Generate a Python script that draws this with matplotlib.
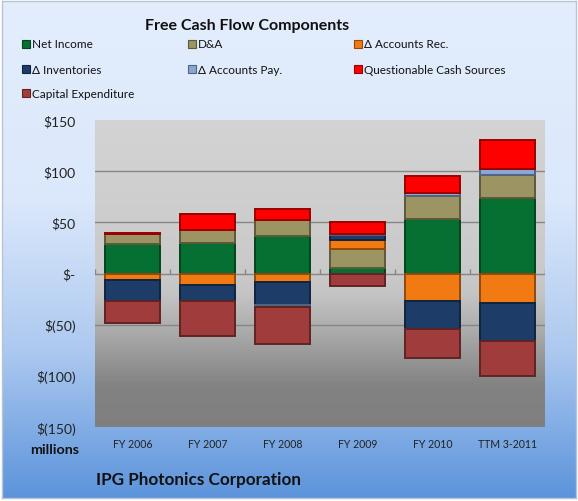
import matplotlib
matplotlib.use('Agg')
import matplotlib.pyplot as plt
import numpy as np
from matplotlib.patches import Rectangle
import matplotlib.colors as mcolors

# ---------------- data ----------------
categories = ['FY 2006', 'FY 2007', 'FY 2008', 'FY 2009', 'FY 2010', 'TTM 3-2011']
net_income = [28.7, 30.0, 36.6, 4.9, 53.6, 73.5]
dna = [9.8, 12.4, 15.4, 19.3, 22.2, 22.9]
accounts_rec = [-6.5, -11.0, -8.5, 8.8, -27.1, -28.8]
inventories = [-20.0, -15.7, -22.2, 5.0, -27.1, -37.6]
accounts_pay = [0.0, 0.0, -2.0, 0.8, 3.3, 6.2]
questionable = [1.5, 16.0, 11.4, 11.8, 16.3, 28.0]
capex = [-21.5, -34.6, -36.3, -11.8, -28.8, -33.6]

series_names = ['Net Income', 'D&A', 'Δ Accounts Rec.', 'Δ Inventories',
                'Δ Accounts Pay.', 'Questionable Cash Sources', 'Capital Expenditure']
y_ticks = [150, 100, 50, 0, -50, -100, -150]
y_tick_labels = ['$150', '$100', '$50', '$-', '$(50)', '$(100)', '$(150)']

series_values = [net_income, dna, accounts_rec, inventories, accounts_pay, questionable, capex]
colors = ['#067032', '#9c9462', '#f27a12', '#1d3c68', '#8aa6d6', '#ff0000', '#a03c3c']

FONT = ['Lato', 'DejaVu Sans']
plt.rcParams['font.family'] = FONT

W, H = 578, 502
fig = plt.figure(figsize=(W / 100, H / 100), dpi=100, facecolor='white')

def fx(px):
    return px / W

def fy(py):
    return 1 - py / H

# ---------- figure background gradient ----------
bg = fig.add_axes([fx(2), fy(499), fx(574), (497) / H], zorder=-10)
rows = np.linspace(0, 1, 300)
stops_y = [0.0, 0.40, 0.70, 1.0]
stops_c = [(0.89, 0.93, 0.99), (0.86, 0.91, 0.985), (0.68, 0.79, 0.94), (0.36, 0.58, 0.86)]
grad = np.zeros((300, 1, 3))
for ch in range(3):
    grad[:, 0, ch] = np.interp(rows, stops_y, [c[ch] for c in stops_c])
bg.imshow(grad, aspect='auto', extent=[0, 1, 1, 0])
bg.set_xlim(0, 1)
bg.set_ylim(1, 0)
bg.set_xticks([])
bg.set_yticks([])
for s in bg.spines.values():
    s.set_color('#b8c4d4')
    s.set_linewidth(1.0)

# ---------- main axes ----------
ax = fig.add_axes([fx(95), fy(428), fx(450), (428 - 121) / H], zorder=1)
n = len(categories)
x = np.arange(n)
ax.set_xlim(-0.5, n - 0.5)
ax.set_ylim(-150, 150)

# plot-area gradient
vals = np.linspace(-150, 150, 400)
gpts_v = [-150, -110, -60, -20, 0, 150]
gpts_c = [0.50, 0.51, 0.66, 0.77, 0.79, 0.83]
g = np.interp(vals, gpts_v, gpts_c)
pimg = np.repeat(g[:, None, None], 3, axis=2)
ax.imshow(pimg, aspect='auto', origin='lower', extent=[-0.5, n - 0.5, -150, 150], zorder=0)

# gridlines
for t in y_ticks:
    if t not in (150, -150):
        ax.axhline(t, color='#868686', lw=1.0, zorder=1)

# tick marks at category boundaries on zero line
ax.vlines(np.arange(n + 1) - 0.5, 0, 4, color='#868686', lw=1.0, zorder=1)

# stacked bars
pos_bottom = np.zeros(n)
neg_bottom = np.zeros(n)
width = 0.73
for vals_s, col, name in zip(series_values, colors, series_names):
    v = np.array(vals_s, dtype=float)
    bottoms = np.where(v >= 0, pos_bottom, neg_bottom)
    edge = tuple(np.array(mcolors.to_rgb(col)) * 0.6)
    ax.bar(x, v, width=width, bottom=bottoms, color=col, edgecolor=edge,
           linewidth=1.4, zorder=3, label=name)
    pos_bottom = pos_bottom + np.where(v >= 0, v, 0)
    neg_bottom = neg_bottom + np.where(v < 0, v, 0)

ax.set_yticks(y_ticks)
ax.set_yticklabels(y_tick_labels, fontsize=10, color='#222222')
ax.set_xticks(x)
ax.set_xticklabels(categories, fontsize=7.6, color='#222222')
ax.tick_params(axis='y', length=0, pad=14)
ax.tick_params(axis='x', length=0, pad=8)
for s in ax.spines.values():
    s.set_visible(False)

# ---------- title ----------
fig.text(fx(247), fy(26), 'Free Cash Flow Components', ha='center', va='center',
         fontsize=11.5, fontweight='bold', color='#111111')

# ---------- legend (manual, row-major like Excel) ----------
col_x = [22, 188, 354]
row_y = [45, 70, 94]
for i, (name, col) in enumerate(zip(series_names, colors)):
    r, c = divmod(i, 3)
    px, py = col_x[c], row_y[r]
    edge = tuple(np.array(mcolors.to_rgb(col)) * 0.6)
    fig.patches.append(Rectangle((fx(px), fy(py + 4)), fx(8), 8 / H,
                                 transform=fig.transFigure, facecolor=col,
                                 edgecolor=edge, linewidth=0.8))
    fig.text(fx(px + 10), fy(py), name, ha='left', va='center', fontsize=8.5,
             color='#111111', family=FONT)

# ---------- other text ----------
fig.text(fx(79), fy(450), 'millions', ha='right', va='center', fontsize=10.3,
         fontweight='bold', color='#111111')
fig.text(fx(96), fy(480), 'IPG Photonics Corporation', ha='left', va='center',
         fontsize=12.3, fontweight='bold', color='#111111')

fig.savefig('out.png', dpi=100, facecolor='white')
